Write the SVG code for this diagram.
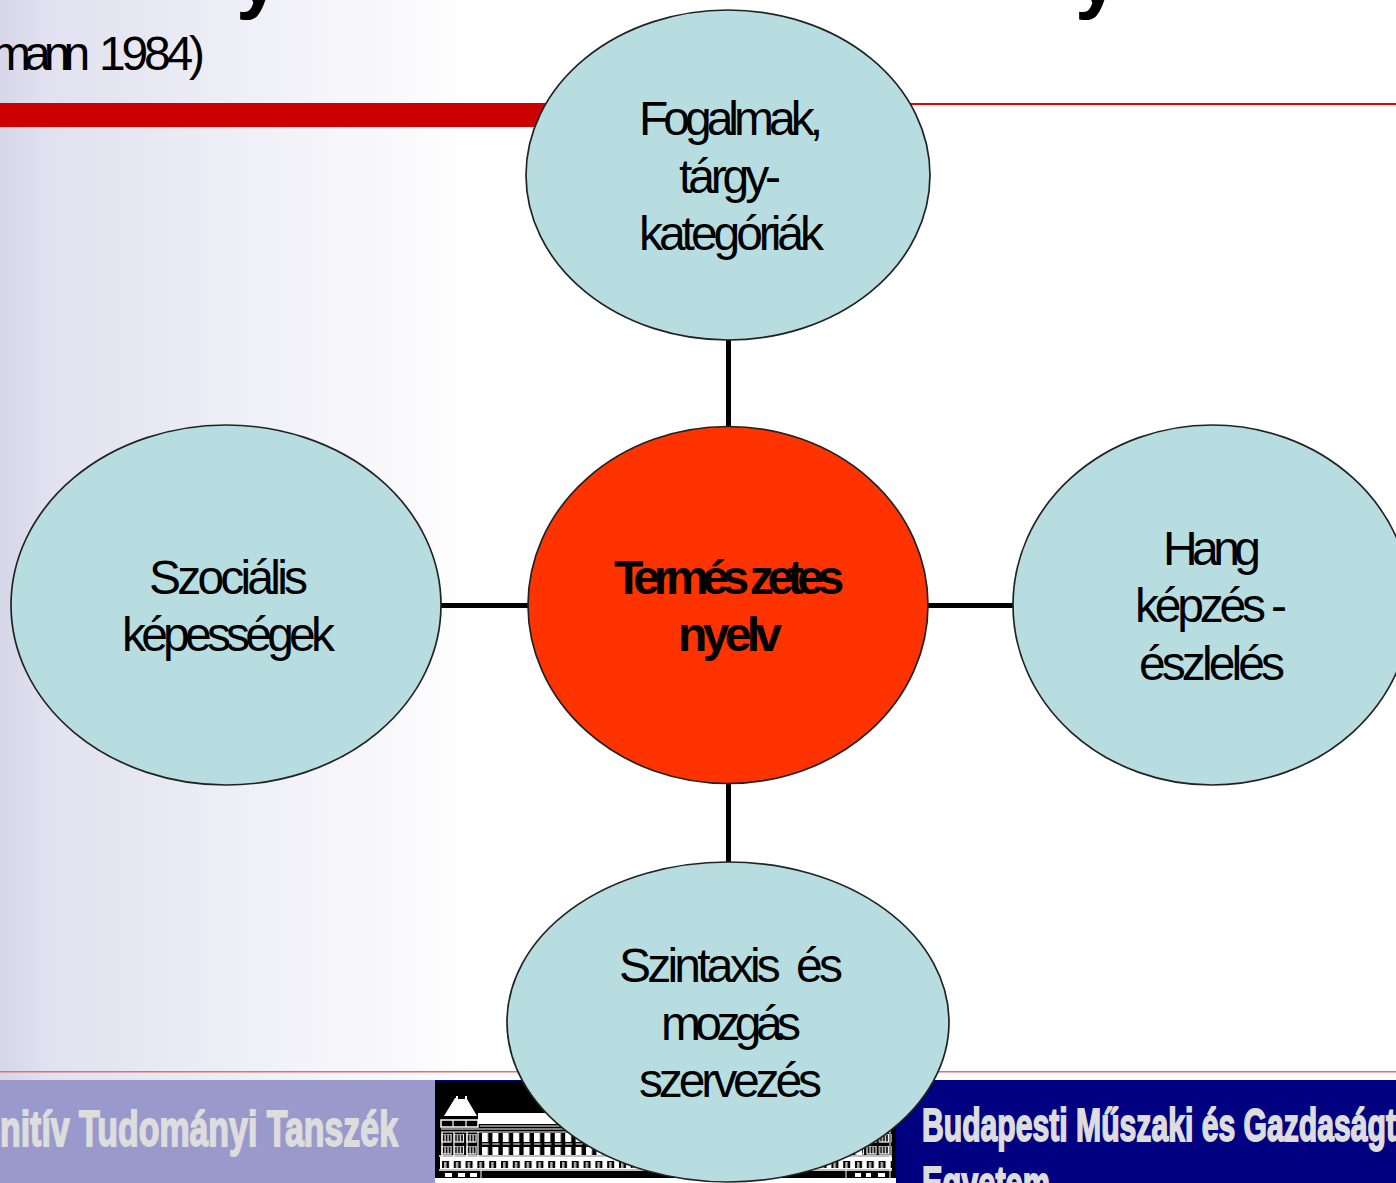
<svg xmlns="http://www.w3.org/2000/svg" width="1396" height="1183" viewBox="0 0 1396 1183">
<style>
.n{fill:#b7dde0;stroke:#222;stroke-width:1.700}
.t{font-family:"Liberation Sans",Arial,sans-serif;font-size:48px;fill:#000}
.c{stroke:#000;stroke-width:5;fill:none}
.f{font-family:"Liberation Sans Narrow","Liberation Sans",sans-serif;font-weight:700;font-size:50px;fill:#ddd;stroke:#ddd;stroke-width:1.800}
.w{stroke:#fff;fill:none;stroke-width:1.500}
</style>
<defs>
<linearGradient id="bg" x1="0" x2="1" y1="0" y2="0"><stop offset="0" stop-color="#d6d6e9"/><stop offset="0.1" stop-color="#e1e1f0"/><stop offset="1" stop-color="#fff"/></linearGradient>
<pattern id="wing" width="10.400" height="25" patternUnits="userSpaceOnUse" x="482" y="1132"><rect x="0" y="1" width="6" height="9" fill="#fff"/><rect x="1" y="10" width="4" height="5" fill="#000"/><rect x="-1" y="11" width="8" height="2" fill="#fff" opacity=".5"/><rect x="0" y="15" width="6" height="8" fill="#fff"/></pattern>
<pattern id="arch" width="11.800" height="12" patternUnits="userSpaceOnUse" x="440" y="1157"><rect width="11.800" height="12" fill="#fff"/><path d="M2 11V4H9V11Z" fill="#000"/><rect x="4" y="5" width="2.500" height="6" fill="#fff" opacity=".7"/></pattern>
<pattern id="tw" width="12.500" height="12" patternUnits="userSpaceOnUse" x="441" y="1134"><rect x="1" y="0" width="9" height="8" fill="none" stroke="#fff" stroke-width="1.200"/><path d="M4 1V8M7 1V8" stroke="#fff" stroke-width="1.200"/></pattern>
</defs>
<rect width="1396" height="1183" fill="#fff"/>
<rect x="0" y="0" width="480" height="1183" fill="url(#bg)"/>
<g id="title">
<text x="236" y="3" font-family="Liberation Sans,sans-serif" font-weight="700" font-size="80" fill="#000">y</text>
<text x="1075" y="3" font-family="Liberation Sans,sans-serif" font-weight="700" font-size="80" fill="#000">y</text>
<text y="70" font-family="Liberation Sans,sans-serif" font-size="48" fill="#000"><tspan x="-9" letter-spacing="-7">mann </tspan><tspan x="99" letter-spacing="-4.200">1984)</tspan></text>
</g>
<rect x="0" y="103" width="560" height="24" fill="#c00"/>
<rect x="900" y="103" width="496" height="2" fill="#d40a0a"/>
<rect x="0" y="1071" width="1396" height="1.500" fill="#e07070"/>
<g id="footer">
<rect x="0" y="1080" width="435" height="103" fill="#99c"/>
<rect x="435" y="1080" width="961" height="103" fill="#000080"/>
<rect x="435" y="1081" width="461" height="102" fill="#000"/>
<text class="f" x="0" y="1146" textLength="398" lengthAdjust="spacingAndGlyphs">nitív Tudományi Tanszék</text>
<text class="f" x="922" y="1141" textLength="474" lengthAdjust="spacingAndGlyphs" style="font-size:46px">Budapesti Műszaki és Gazdaságt</text>
<text class="f" x="922" y="1199" textLength="128" lengthAdjust="spacingAndGlyphs" style="font-size:46px">Egyetem</text>
</g>
<g id="logo">
<path d="M444 1116L455 1098H456V1096H458V1099H465V1096H467V1099L477 1116Z" fill="#fff"/>
<path d="M478 1113H550L557 1124H478Z" fill="#fff"/>
<rect x="441" y="1120" width="37" height="7" class="w"/>
<path d="M453 1120V1127M466 1120V1127M441 1129H890M441 1132H890M442 1132V1168M454 1132V1168M467 1132V1168M478 1132V1168M480 1126H890" stroke="#fff" stroke-width="1.200" fill="none"/>
<rect x="441" y="1134" width="37" height="21" fill="url(#tw)"/>
<rect x="482" y="1132" width="380" height="25" fill="url(#wing)"/>
<rect x="855" y="1134" width="37" height="21" fill="url(#tw)"/>
<rect x="440" y="1157" width="452" height="12" fill="url(#arch)"/>
<path d="M439 1156H892M439 1170H892" stroke="#fff" stroke-width="1.500"/>
<path d="M445 1173h7v4h-7zM458 1173h7v4h-7zM470 1173h7v4h-7zM855 1173h6v4h-6zM866 1173h5v4h-5zM878 1173h7v4h-7z" fill="#fff"/>
<path d="M481 1170V1178M846 1170V1178M890 1130V1178" stroke="#fff" stroke-width="1"/>
<rect x="435" y="1178" width="461" height="5" fill="#fff"/>
</g>
<g id="connectors">
<path class="c" d="M728.500 340V427M728.500 784V862M441 605.500H529M927 605.500H1013"/>
</g>
<g id="n-top"><ellipse class="n" cx="728" cy="175" rx="202" ry="165"/>
<text class="t" x="639" y="135" textLength="184">Fogalmak,</text>
<text class="t" x="679" y="193" textLength="102">tárgy-</text>
<text class="t" x="639" y="250" textLength="185">kategóriák</text></g>
<g id="n-left"><ellipse class="n" cx="226" cy="605" rx="215" ry="180"/>
<text class="t" x="149" y="594" textLength="159">Szociális</text>
<text class="t" x="122" y="651" textLength="213">képességek</text></g>
<g id="n-center"><ellipse cx="728" cy="605" rx="200" ry="178.500" fill="#f30" stroke="#222" stroke-width="1.700"/>
<text class="t" x="614" y="594" font-weight="700" letter-spacing="-6.400">Termés<tspan dx="7">zetes</tspan></text>
<text class="t" x="678" y="651" textLength="104" font-weight="700">nyelv</text></g>
<g id="n-right"><ellipse class="n" cx="1212" cy="605" rx="199" ry="180"/>
<text class="t" x="1163" y="565" textLength="98">Hang</text>
<text class="t" x="1135" y="622" textLength="152" xml:space="preserve">képzés -</text>
<text class="t" x="1139" y="680" textLength="146">észlelés</text></g>
<g id="n-bottom"><ellipse class="n" cx="728" cy="1022" rx="221" ry="160"/>
<text class="t" x="619" y="982" textLength="224" xml:space="preserve">Szintaxis  és</text>
<text class="t" x="661" y="1040" textLength="140">mozgás</text>
<text class="t" x="639" y="1097" textLength="183">szervezés</text></g>
</svg>
